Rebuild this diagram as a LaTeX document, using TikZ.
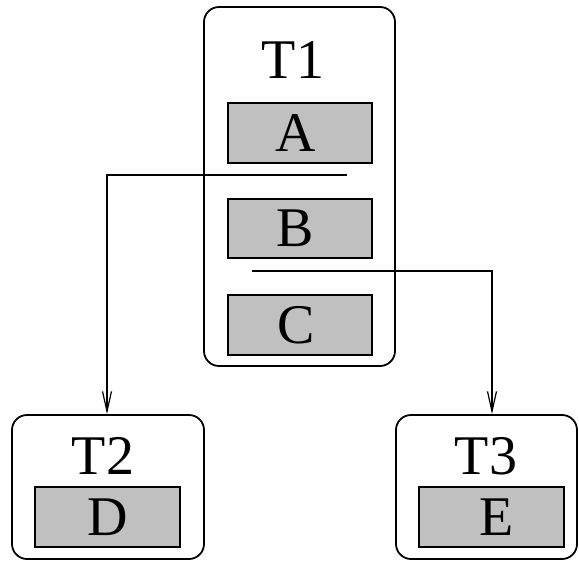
\documentclass[tikz,border=0pt]{standalone}
\usepackage{fontspec}
\setmainfont{Liberation Serif}
\usetikzlibrary{arrows.meta,calc}
\definecolor{boxgray}{HTML}{C0C0C0}
\begin{document}
\begin{tikzpicture}[x=1pt,y=-1pt,
  font=\fontsize{56}{60}\selectfont,
  outer/.style={draw,line width=1.8pt,rounded corners=15pt,minimum width=#1,inner sep=0pt},
  outer/.default=191pt,
  inner/.style={draw,line width=1.8pt,fill=boxgray,minimum width=145pt,minimum height=60pt,inner sep=0pt,text height=37pt,text depth=0pt},
  title/.style={anchor=base,inner sep=0pt},
  conn/.style={line width=1.6pt,-{Straight Barb[length=20pt,width=9pt,line width=1.2pt]}}]
\useasboundingbox (0,0) rectangle (579,561);
% T1
\node[outer, minimum height=359pt] (T1) at (299.5,186.5) {};
\node[title] (T1t) at (293,79) {T1};
\node[inner, minimum width=144pt] (A) at (300,133) {\hspace*{-8pt}A};
\node[inner, minimum width=144pt, minimum height=59pt] (B) at (300,228.5) {\hspace*{-10pt}B};
\node[inner, minimum width=144pt] (C) at (300,325) {\hspace*{-8pt}C};
% T2
\node[outer=192pt, minimum height=144pt] (T2) at (108,487) {};
\node[title] (T2t) at (103,475) {T2};
\node[inner] (D) at (107.5,517) {D};
% T3
\node[outer=181pt, minimum height=144pt] (T3) at (486.5,487) {};
\node[title] (T3t) at (486,475) {T3};
\node[inner] (E) at (491.5,517) {\hspace*{10pt}E};
% connectors
\coordinate (c1) at (347,175);
\coordinate (c2) at (252,271);
\draw[conn] (c1) -| ([xshift=-1pt]T2.north);
\draw[conn] (c2) -| ([xshift=5.5pt]T3.north);
\end{tikzpicture}
\end{document}
